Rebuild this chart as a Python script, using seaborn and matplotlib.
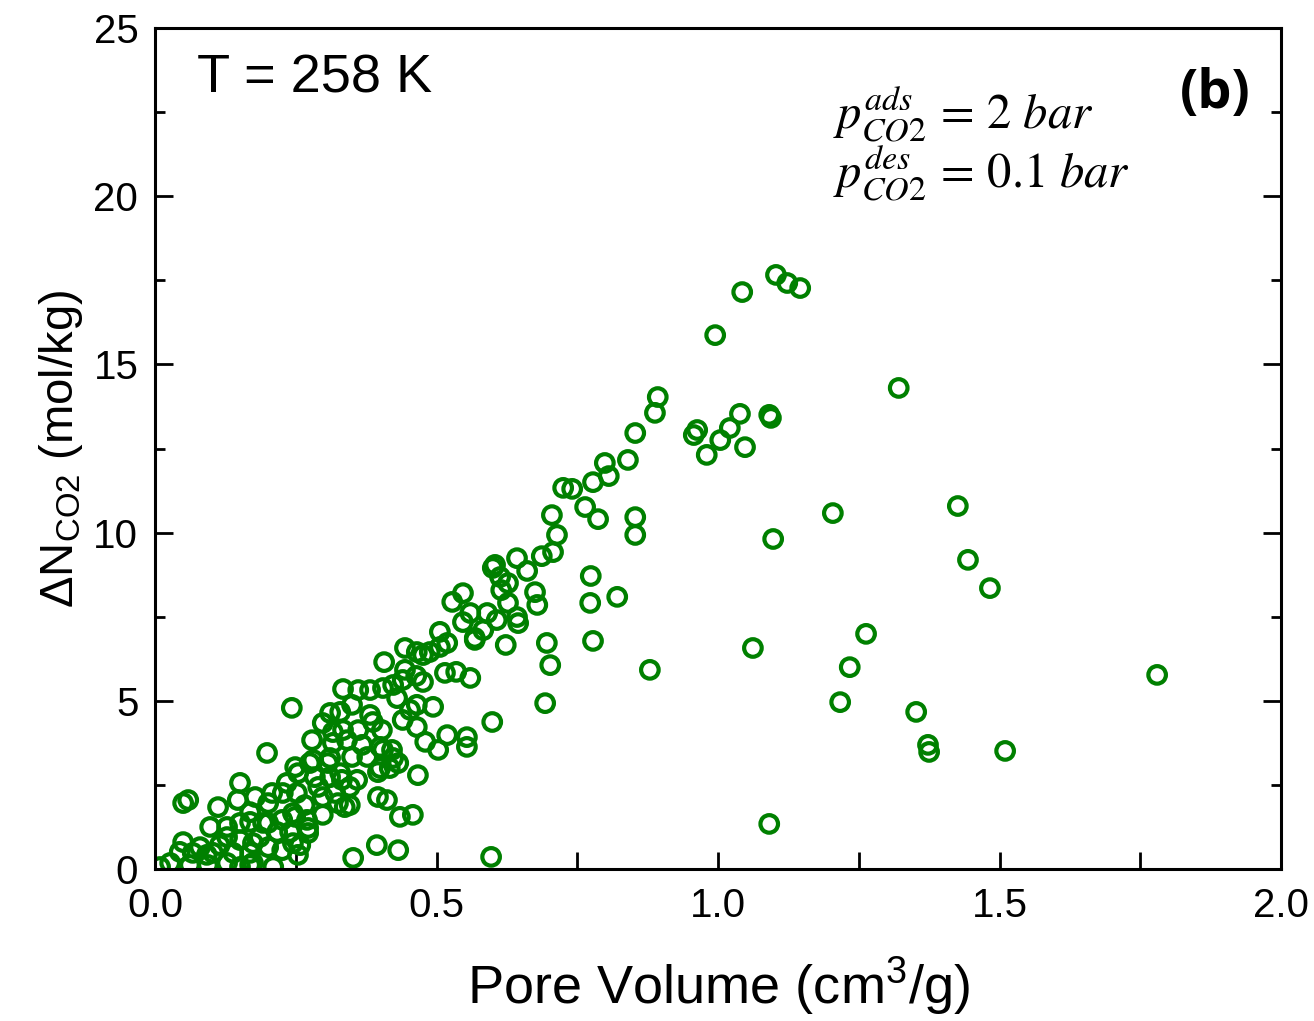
import matplotlib
matplotlib.use('Agg')
import matplotlib.pyplot as plt
import seaborn as sns
import pandas as pd
from matplotlib.ticker import MultipleLocator

# Pore volume (cm3/g) and CO2 working capacity (mol/kg)
pore_volume = [
    1.103, 1.123, 1.146, 1.043, 0.995, 1.321, 0.893, 0.888, 0.853, 0.840,
    0.799, 0.806, 0.778, 0.725, 0.741, 0.764, 0.787, 0.705, 0.714, 0.853,
    0.853, 0.963, 0.957, 0.980, 1.004, 1.021, 1.039, 1.048, 1.091, 1.094,
    1.204, 1.098, 1.426, 1.444, 1.483, 1.263, 1.062, 1.234, 1.217, 1.780,
    1.352, 1.373, 1.375, 1.510, 1.091, 0.879, 0.778, 0.773, 0.774, 0.821,
    0.696, 0.702, 0.693, 0.597, 0.352, 0.707, 0.687, 0.643, 0.661, 0.604,
    0.600, 0.613, 0.627, 0.615, 0.627, 0.645, 0.643, 0.675, 0.679, 0.623,
    0.590, 0.607, 0.560, 0.547, 0.583, 0.568, 0.528, 0.547, 0.506, 0.506,
    0.519, 0.488, 0.444, 0.465, 0.407, 0.444, 0.464, 0.476, 0.440, 0.515,
    0.535, 0.560, 0.568, 0.334, 0.361, 0.405, 0.423, 0.382, 0.430, 0.465,
    0.494, 0.243, 0.311, 0.329, 0.350, 0.382, 0.599, 0.298, 0.334, 0.361,
    0.403, 0.440, 0.465, 0.480, 0.519, 0.554, 0.554, 0.503, 0.279, 0.316,
    0.350, 0.377, 0.405, 0.421, 0.432, 0.396, 0.417, 0.467, 0.249, 0.275,
    0.307, 0.329, 0.151, 0.178, 0.208, 0.234, 0.252, 0.290, 0.298, 0.325,
    0.346, 0.346, 0.359, 0.396, 0.412, 0.435, 0.458, 0.059, 0.050, 0.112,
    0.151, 0.098, 0.128, 0.169, 0.192, 0.226, 0.245, 0.270, 0.272, 0.240,
    0.217, 0.186, 0.151, 0.115, 0.080, 0.050, 0.044, 0.067, 0.103, 0.139,
    0.169, 0.201, 0.226, 0.258, 0.254, 0.394, 0.432, 0.009, 0.027, 0.062,
    0.094, 0.128, 0.151, 0.174, 0.210, 0.199, 0.311, 0.281, 0.254, 0.227,
    0.201, 0.147, 0.169, 0.128, 0.092, 0.174, 0.201, 0.249, 0.245, 0.272,
    0.298, 0.320, 0.337, 0.311, 0.332, 0.284, 0.266, 0.169, 0.387, 0.453,
    0.316, 0.341, 0.368, 0.400, 0.400, 0.423, 0.476,
]
delta_n = [
    17.66, 17.42, 17.27, 17.15, 15.87, 14.30, 14.03, 13.56, 12.96, 12.16,
    12.07, 11.68, 11.50, 11.33, 11.30, 10.76, 10.40, 10.52, 9.93, 10.46,
    9.93, 13.05, 12.90, 12.31, 12.75, 13.11, 13.53, 12.54, 13.50, 13.41,
    10.58, 9.81, 10.79, 9.19, 8.35, 6.99, 6.57, 6.00, 4.96, 5.77,
    4.67, 3.69, 3.48, 3.51, 1.34, 5.92, 6.78, 7.91, 8.71, 8.09,
    6.72, 6.06, 4.93, 0.36, 0.33, 9.42, 9.30, 9.24, 8.86, 9.04,
    8.95, 8.68, 8.50, 8.29, 7.91, 7.31, 7.49, 8.23, 7.85, 6.66,
    7.61, 7.40, 7.61, 7.34, 7.10, 6.87, 7.94, 8.20, 7.05, 6.60,
    6.72, 6.45, 6.57, 6.45, 6.15, 5.92, 5.74, 5.56, 5.62, 5.83,
    5.86, 5.68, 6.81, 5.35, 5.32, 5.38, 5.47, 5.32, 5.08, 4.88,
    4.82, 4.79, 4.64, 4.67, 4.88, 4.58, 4.37, 4.34, 4.13, 4.13,
    4.13, 4.43, 4.22, 3.78, 3.98, 3.92, 3.63, 3.54, 3.83, 3.75,
    3.33, 3.33, 3.54, 3.54, 3.15, 2.88, 3.00, 2.79, 3.03, 3.15,
    3.15, 2.85, 2.56, 2.14, 2.26, 2.56, 2.26, 2.44, 2.14, 1.96,
    2.44, 1.90, 2.65, 2.14, 2.05, 1.55, 1.61, 2.05, 1.96, 1.84,
    1.37, 1.25, 1.25, 1.40, 1.37, 1.46, 1.66, 1.46, 1.07, 1.10,
    1.10, 0.95, 0.86, 0.71, 0.65, 0.80, 0.51, 0.48, 0.48, 0.48,
    0.48, 0.65, 0.56, 0.71, 0.42, 0.71, 0.56, 0.06, 0.18, 0.12,
    0.12, 0.18, 0.06, 0.18, 0.06, 3.45, 3.30, 3.24, 2.85, 2.26,
    1.96, 2.05, 1.69, 0.95, 0.42, 0.77, 1.37, 1.55, 0.77, 1.22,
    1.61, 2.26, 1.84, 2.73, 2.65, 2.73, 1.90, 0.12, 4.37, 4.73,
    4.07, 3.83, 3.69, 3.63, 3.00, 3.30, 6.36,
]

x_major_ticks = [0.0, 0.5, 1.0, 1.5, 2.0]
x_tick_labels = ['0.0', '0.5', '1.0', '1.5', '2.0']
y_major_ticks = [0, 5, 10, 15, 20, 25]
y_tick_labels = ['0', '5', '10', '15', '20', '25']

sns.set_style('ticks')
plt.rcParams['font.family'] = ['Liberation Sans', 'DejaVu Sans']
plt.rcParams['text.color'] = 'black'
plt.rcParams['axes.labelcolor'] = 'black'
plt.rcParams['xtick.color'] = 'black'
plt.rcParams['ytick.color'] = 'black'

df = pd.DataFrame({'pore_volume': pore_volume, 'delta_n': delta_n})

fig = plt.figure(figsize=(13.14, 10.21), dpi=100)
ax = fig.add_axes([155 / 1314, 1 - 869 / 1021, 1126 / 1314, 841 / 1021])

sns.scatterplot(data=df, x='pore_volume', y='delta_n', ax=ax, marker='o',
                s=160, color='#008000', linewidth=3.0, legend=False)
coll = ax.collections[0]
coll.set_facecolor('none')
coll.set_edgecolor('#008000')

ax.set_xlim(0, 2)
ax.set_ylim(0, 25)
ax.set_xticks(x_major_ticks)
ax.set_xticklabels(x_tick_labels)
ax.set_yticks(y_major_ticks)
ax.set_yticklabels(y_tick_labels)
ax.xaxis.set_minor_locator(MultipleLocator(0.25))
ax.yaxis.set_minor_locator(MultipleLocator(2.5))

for sp in ax.spines.values():
    sp.set_visible(True)
    sp.set_linewidth(2.2)
    sp.set_color('black')

ax.tick_params(axis='x', which='both', direction='in', length=12, width=2,
               bottom=True, top=False, labelsize=29, pad=13)
ax.tick_params(axis='y', which='major', direction='in', length=13, width=2,
               left=True, right=True, labelsize=29, pad=12)
ax.tick_params(axis='y', which='minor', direction='in', length=7, width=2,
               left=True, right=True)

ax.set_xlabel('Pore Volume (cm$^{\\mathregular{3}}$/g)', fontsize=39, labelpad=21)
ax.set_ylabel('ΔN$_{\\mathregular{CO2}}$ (mol/kg)', fontsize=34, labelpad=6)

ax.text(0.037, 0.923, 'T = 258 K', transform=ax.transAxes, fontsize=39,
        va='baseline', ha='left')
ax.text(0.910, 0.905, '(b)', transform=ax.transAxes, fontsize=39,
        fontweight='bold', family=['Open Sans', 'DejaVu Sans'],
        va='baseline', ha='left')
ax.text(0.602, 0.881, r'$p_{CO2}^{ads}\,=\,2\ bar$', transform=ax.transAxes,
        fontsize=35, math_fontfamily='stix', va='baseline', ha='left')
ax.text(0.602, 0.811, r'$p_{CO2}^{des}\,=\,0.1\ bar$', transform=ax.transAxes,
        fontsize=35, math_fontfamily='stix', va='baseline', ha='left')

fig.savefig('out.png', dpi=100)
